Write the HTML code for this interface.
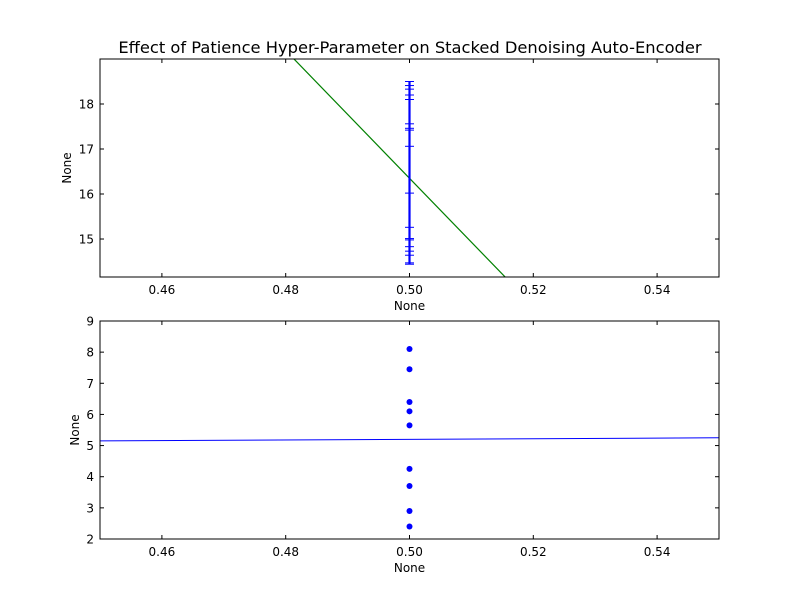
<!DOCTYPE html>
<html><head><meta charset="utf-8"><style>
body{margin:0;background:#fff;}
svg{display:block;font-family:"DejaVu Sans","Liberation Sans",sans-serif;}
</style></head><body>
<svg id="c" width="800" height="600"></svg>
<script>
const xTicks=[0.46,0.48,0.50,0.52,0.54];
const topYTicks=[15,16,17,18];
const botYTicks=[2,3,4,5,6,7,8,9];
const errCaps=[18.50,18.41,18.33,18.20,18.10,17.56,17.46,17.42,17.06,16.02,15.26,15.01,14.98,14.83,14.73,14.64,14.47,14.44];
const errX=0.5;
const greenX=[0.45,0.55];
const greenY=[23.45,9.25];
const scatterY=[8.1,7.45,6.4,6.1,5.65,4.25,3.7,2.9,2.4];
const scatterX=0.5;
const blueLineX=[0.45,0.55];
const blueLineY=[5.15,5.25];

const NS="http://www.w3.org/2000/svg";
const svg=document.getElementById('c');
function el(t,a,p){const e=document.createElementNS(NS,t);for(const k in a)e.setAttribute(k,a[k]);(p||svg).appendChild(e);return e;}
const L=100,R=719;
function sx(v){return L+(v-0.45)/0.1*(R-L);}
function mkY(top,bot,v0,v1){return v=>bot-(v-v0)/(v1-v0)*(bot-top);}
const tY=mkY(59,277,14.156,19.0);
const bY=mkY(321,539,2,9);

function axes(name,top,bot,ys,yt,ticks){
  const g=el('g',{});
  
  
  const clipId=name+'-clip';
  const cp=el('clipPath',{id:clipId},g);el('rect',{x:L,y:top,width:R-L,height:bot-top},cp);
  const plot=el('g',{'clip-path':'url(#'+clipId+')'},g);
  xTicks.forEach(v=>{const x=sx(v);
    el('line',{x1:x,y1:bot,x2:x,y2:bot-4,stroke:'#000'},g);
    el('line',{x1:x,y1:top,x2:x,y2:top+4,stroke:'#000'},g);
    const t=el('text',{x:x,y:bot+17,'font-size':12,'text-anchor':'middle'},g);t.textContent=v.toFixed(2);
    });
  ticks.forEach(v=>{const y=ys(v);
    el('line',{x1:L,y1:y,x2:L+4,y2:y,stroke:'#000'},g);
    el('line',{x1:R,y1:y,x2:R-4,y2:y,stroke:'#000'},g);
    const t=el('text',{x:L-6,y:y+4.5,'font-size':12,'text-anchor':'end'},g);t.textContent=v;
    });
  const xl=el('text',{x:(L+R)/2,y:bot+33,'font-size':12,'text-anchor':'middle'},g);xl.textContent='None';
  
  const yc=(top+bot)/2;
  const yl=el('text',{x:yt,y:yc,'font-size':12,'text-anchor':'middle',transform:'rotate(-90 '+yt+' '+yc+')'},g);yl.textContent='None';
  
  return {g,plot,frame:()=>el('rect',{x:L,y:top,width:R-L,height:bot-top,fill:'none',stroke:'#000'},g)};
}
const title=el('text',{x:410,y:53,'font-size':16.3,'text-anchor':'middle'});
title.textContent='Effect of Patience Hyper-Parameter on Stacked Denoising Auto-Encoder';


const A=axes('top-axes',59,277,tY,71,topYTicks);
const gl=el('line',{x1:sx(greenX[0]),y1:tY(greenY[0]),x2:sx(greenX[1]),y2:tY(greenY[1]),stroke:'#008000','stroke-width':1.2},A.plot);

const ex=sx(errX);
const eb=el('line',{x1:ex,y1:tY(Math.max(...errCaps)),x2:ex,y2:tY(Math.min(...errCaps)),stroke:'#0000ff','stroke-width':2.2},A.plot);

errCaps.forEach(v=>{const c=el('line',{x1:ex-4.5,x2:ex+4.5,y1:tY(v),y2:tY(v),stroke:'#0000ff','stroke-width':1},A.plot);
  });
A.frame();

const B=axes('bottom-axes',321,539,bY,79,botYTicks);
const bl=el('line',{x1:sx(blueLineX[0]),y1:bY(blueLineY[0]),x2:sx(blueLineX[1]),y2:bY(blueLineY[1]),stroke:'#0000ff','stroke-width':1},B.plot);

scatterY.forEach(v=>{const p=el('circle',{cx:sx(scatterX),cy:bY(v),r:3,fill:'#0000ff'},B.plot);
  });
B.frame();
</script>
</body></html>
